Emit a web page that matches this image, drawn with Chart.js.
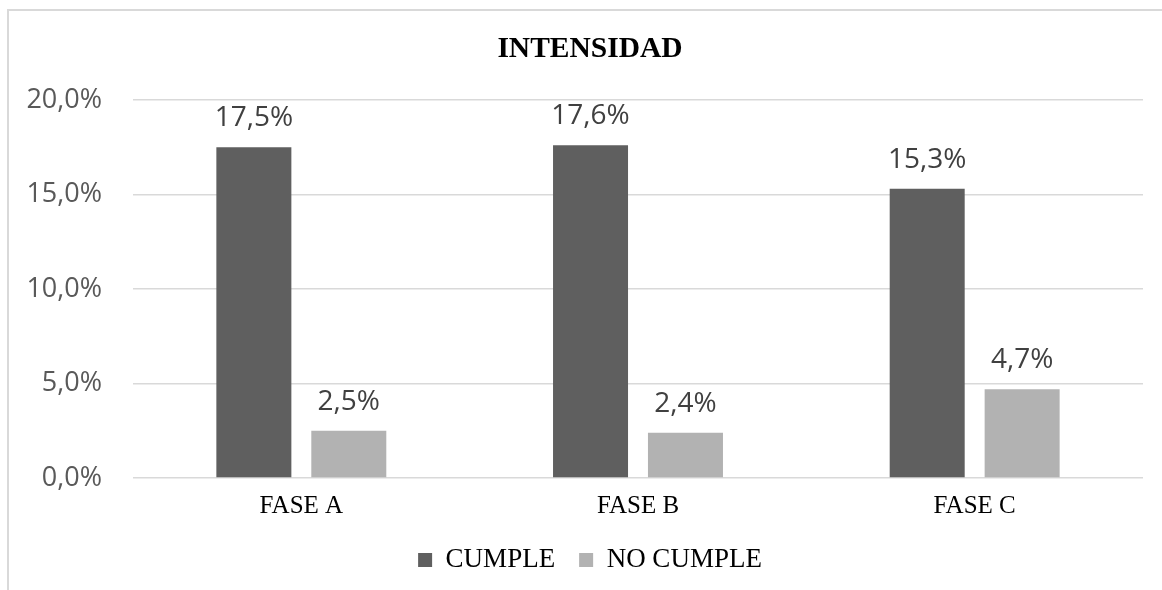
<!DOCTYPE html>
<html>
<head>
<meta charset="utf-8">
<script src="https://cdn.jsdelivr.net/npm/chart.js@4.4.1/dist/chart.umd.min.js"></script>
<style>
  html, body { margin: 0; padding: 0; background: #fff; overflow: hidden; }
  #frame {
    position: absolute; left: 7px; top: 9px;
    width: 1162px; height: 600px;
    border: 2px solid #d9d9d9;
  }
  #intensidad { display: block; }
</style>
</head>
<body>
<div id="frame">
  <canvas id="intensidad" width="1162" height="579"></canvas>
</div>
<script>
const categories = ['FASE A', 'FASE B', 'FASE C'];
const cumple = [17.5, 17.6, 15.3];
const noCumple = [2.5, 2.4, 4.7];
const seriesNames = ['CUMPLE', 'NO CUMPLE'];

const colours = {
  cumple: '#5f5f5f',
  noCumple: '#b2b2b2',
  grid: '#d9d9d9',
  tick: '#595959',
  value: '#404040',
  text: '#000000'
};

const fmt = v => v.toFixed(1).replace('.', ',') + '%';

// value labels above each bar
const barLabels = {
  id: 'barLabels',
  afterDatasetsDraw(chart) {
    const ctx = chart.ctx;
    ctx.save();
    ctx.font = '28px "Open Sans"';
    ctx.fillStyle = colours.value;
    ctx.textAlign = 'center';
    ctx.textBaseline = 'alphabetic';
    chart.data.datasets.forEach((ds, i) => {
      chart.getDatasetMeta(i).data.forEach((bar, j) => {
        ctx.fillText(fmt(ds.data[j]), bar.x, bar.y - 21);
      });
    });
    ctx.restore();
  }
};

const ctx = document.getElementById('intensidad').getContext('2d');

new Chart(ctx, {
  type: 'bar',
  data: {
    labels: categories,
    datasets: [
      { label: seriesNames[0], data: cumple, backgroundColor: colours.cumple },
      { label: seriesNames[1], data: noCumple, backgroundColor: colours.noCumple }
    ]
  },
  options: {
    responsive: false,
    animation: false,
    categoryPercentage: 0.564,
    barPercentage: 0.79,
    layout: { padding: { left: 10, right: 10, top: 0, bottom: 6.5 } },
    plugins: {
      title: {
        display: true,
        text: 'INTENSIDAD',
        color: colours.text,
        font: { family: 'Liberation Serif', size: 29.5, weight: 'bold' },
        padding: { top: 21, bottom: 32.6 }
      },
      legend: {
        position: 'bottom',
        labels: {
          color: colours.text,
          font: { family: 'Liberation Serif', size: 27 },
          boxWidth: 14,
          boxHeight: 14,
          padding: 24
        }
      },
      tooltip: { enabled: false }
    },
    scales: {
      x: {
        grid: { display: false, drawTicks: false },
        border: { display: false },
        ticks: {
          color: colours.text,
          padding: 13,
          font: { family: 'Liberation Serif', size: 25 }
        },
        afterFit: scale => { scale.height = 44.5; }
      },
      y: {
        min: 0,
        max: 20,
        grid: { color: colours.grid, lineWidth: 1.5, drawTicks: false },
        border: { display: false },
        ticks: {
          stepSize: 5,
          padding: 31,
          color: colours.tick,
          font: { family: 'Open Sans', size: 27 },
          callback: v => fmt(v)
        },
        afterFit: scale => { scale.width = 114; }
      },
      // empty right-hand margin so the title and legend stay centred on the frame
      yRight: {
        position: 'right',
        grid: { display: false, drawTicks: false },
        border: { display: false },
        ticks: { display: false },
        afterFit: scale => { scale.width = 18; }
      }
    }
  },
  plugins: [barLabels]
});
</script>
</body>
</html>
